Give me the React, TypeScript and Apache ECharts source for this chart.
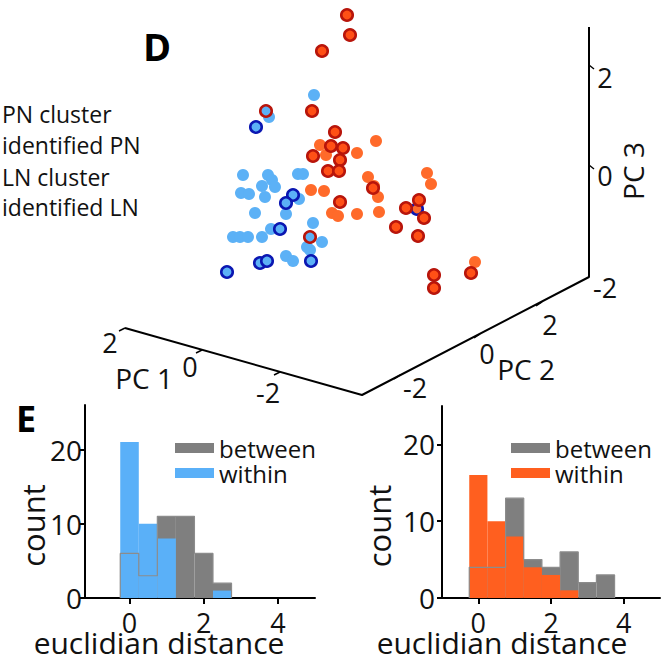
import React, { useEffect, useRef } from "react";
import * as echarts from "echarts";

const FONT = '"Open Sans", "Noto Sans", sans-serif';

// ---------- Panel D: projected (screen-plane) positions of the 3-D PCA scatter ----------
const lnClusterPts: number[][] = [
  [314, 95], [269, 117], [243, 175], [268, 175], [272, 180], [275, 187], [298, 174], [303, 174],
  [262, 186], [241, 193], [249, 194], [265, 197], [299, 199], [255, 213], [286, 214], [313, 223],
  [271, 229], [322, 242], [233, 237], [240, 237], [248, 237], [262, 237], [307, 247], [310, 250],
  [286, 256], [293, 261],
];
const pnClusterPts: number[][] = [
  [320, 145], [326, 155], [357, 153], [376, 141], [311, 190], [324, 191], [368, 177], [374, 186],
  [378, 197], [332, 213], [338, 216], [357, 214], [379, 212], [427, 173], [431, 184], [475, 262],
];
const identifiedPnPts: number[][] = [
  [347, 15], [350, 35], [322, 51], [312, 111], [335, 132], [331, 146], [343, 148], [313, 156],
  [340, 160], [328, 171], [339, 171], [373, 188], [340, 202], [406, 208], [419, 200], [424, 218],
  [396, 227], [418, 236], [471, 273], [434, 275], [434, 288],
];
const identifiedPnInLnCluster: number[][] = [[266, 111], [310, 237]];
const identifiedLnPts: number[][] = [
  [256, 127], [293, 195], [286, 203], [280, 229], [260, 263], [267, 261], [311, 261], [227, 272],
];
const identifiedLnInPnCluster: number[][] = [[417, 209]];

const legendLabelsD = ["PN cluster", "identified PN", "LN cluster", "identified LN"];
const pc1TickLabels = ["2", "0", "-2"];
const pc2TickLabels = ["-2", "0", "2"];
const pc3TickLabels = ["2", "0", "-2"];

// ---------- Panel E: histograms of euclidian distance ----------
const binCenters = [0, 0.5, 1, 1.5, 2, 2.5, 3, 3.5];
const binWidth = 0.5;
const lnBetween = [6, 3, 11, 11, 6, 2, 0, 0];
const lnWithin = [21, 10, 8, 0, 0, 1, 0, 0];
const pnBetween = [4, 4, 13, 5, 4, 6, 2, 3];
const pnWithin = [16, 10, 8, 4, 3, 1, 0, 0];
const histXTicks = [0, 2, 4];
const histYTicks = [0, 10, 20];

const COLORS = {
  lightBlue: "#5cb1f6",
  orange: "#ff6a2a",
  pnFill: "#ff5016",
  pnRing: "#b8150b",
  lnRing: "#0b17b2",
  grey: "#7f7f7f",
  histBlue: "#5ab0f8",
  histOrange: "#ff5f1f",
};

// 3-D axis frame layout (screen positions)
const frame = {
  top: [589, 27],
  corner3: [589, 277],
  corner12: [362, 395],
  pc1End: [125, 328],
  pc1Ticks: [[125, 328], [202, 350], [280, 372]],
  pc1LabelPos: [[110, 342], [190, 366], [268, 392]],
  pc2Ticks: [[400, 375], [480, 334], [542, 302]],
  pc2LabelPos: [[415, 387], [487, 353], [550, 324]],
  pc3Ticks: [[589, 65], [589, 165], [589, 277]],
  pc3LabelPos: [[605, 77], [605, 175], [605, 287]],
};

function histData(counts: number[]) {
  return binCenters.map((c, i) => [c - binWidth / 2, c + binWidth / 2, counts[i]]);
}

function stepOutline(counts: number[]) {
  let last = counts.length - 1;
  while (last > 0 && counts[last] === 0) last--;
  const pts: number[][] = [[binCenters[0] - binWidth / 2, 0]];
  for (let i = 0; i <= last; i++) {
    const x0 = binCenters[i] - binWidth / 2;
    pts.push([x0, counts[i]], [x0 + binWidth, counts[i]]);
  }
  pts.push([binCenters[last] + binWidth / 2, 0]);
  return pts;
}

function histSeries(name: string, counts: number[], color: string, idx: number, z: number) {
  return {
    type: "custom",
    name,
    xAxisIndex: idx,
    yAxisIndex: idx,
    z,
    itemStyle: { color },
    encode: { x: [0, 1], y: 2 },
    data: histData(counts),
    renderItem: (_p: any, api: any) => {
      const a = api.coord([api.value(0), api.value(2)]);
      const b = api.coord([api.value(1), 0]);
      return {
        type: "rect",
        shape: { x: a[0], y: a[1], width: b[0] - a[0], height: b[1] - a[1] },
        style: { fill: color },
      };
    },
  };
}

function outlineSeries(counts: number[], idx: number) {
  return {
    type: "line",
    xAxisIndex: idx,
    yAxisIndex: idx,
    z: 5,
    symbol: "none",
    silent: true,
    data: stepOutline(counts),
    lineStyle: { color: "#8c8c8c", width: 1.2 },
  };
}

function histAxes(idx: number, xMin: number, yMax: number, namePad: number, yNameGap: number, yLabelMargin: number) {
  const axisLine = { show: true, onZero: false, lineStyle: { color: "#000", width: 2 } };
  return {
    x: {
      type: "value",
      gridIndex: idx,
      min: xMin,
      max: 5,
      axisLine,
      splitLine: { show: false },
      axisTick: { show: true, customValues: histXTicks, length: 6, lineStyle: { color: "#000", width: 2 } },
      axisLabel: {
        customValues: histXTicks,
        fontFamily: FONT,
        fontSize: 27,
        color: "#111",
        margin: 11,
      },
      name: "euclidian distance",
      nameLocation: "middle",
      nameGap: 29.5,
      nameMoveOverlap: false,
      nameTextStyle: { fontFamily: FONT, fontSize: 30, color: "#111", padding: [0, namePad, 0, 0] },
    },
    y: {
      type: "value",
      gridIndex: idx,
      min: 0,
      max: yMax,
      axisLine,
      splitLine: { show: false },
      axisTick: { show: true, customValues: histYTicks, length: 5, lineStyle: { color: "#000", width: 2 } },
      axisLabel: {
        customValues: histYTicks,
        fontFamily: FONT,
        fontSize: 28,
        color: "#111",
        margin: yLabelMargin,
      },
      name: "count",
      nameLocation: "middle",
      nameGap: yNameGap,
      nameMoveOverlap: false,
      nameTextStyle: { fontFamily: FONT, fontSize: 31, color: "#111", padding: [0, 48, 0, 0] },
    },
  };
}

export default function App() {
  const ref = useRef<HTMLDivElement>(null);

  useEffect(() => {
    document.body.style.margin = "0";
    if (!ref.current) return;
    const chart = echarts.init(ref.current, undefined, { renderer: "svg" });

    const leftAxes = histAxes(1, -1.2, 26, 82, 37, 3);
    const rightAxes = histAxes(2, -1, 25, 98, 48, 7);

    const textStyle = (size: number, extra: any = {}) => ({
      fontFamily: FONT,
      fontSize: size,
      fill: "#111",
      ...extra,
    });

    const graphics: any[] = [];
    graphics.push({ type: "text", x: 157, y: 46, style: textStyle(38, { text: "D", fontWeight: "bold", align: "center", verticalAlign: "middle", fill: "#000" }) });
    graphics.push({ type: "text", x: 26, y: 418, style: textStyle(36, { text: "E", fontWeight: "bold", align: "center", verticalAlign: "middle", fill: "#000" }) });
    const legendY = [114, 145, 177, 207];
    legendLabelsD.forEach((t, i) => {
      graphics.push({ type: "text", x: 2, y: legendY[i], style: textStyle(23, { text: t, align: "left", verticalAlign: "middle" }) });
    });
    const hook = (p: number[], dx: number, dy: number) => ({
      type: "line",
      shape: { x1: p[0], y1: p[1], x2: p[0] + dx, y2: p[1] + dy },
      style: { stroke: "#000", lineWidth: 1.5 },
    });
    frame.pc1Ticks.forEach((p) => graphics.push(hook(p, -6, 3)));
    frame.pc2Ticks.forEach((p) => graphics.push(hook(p, -6, 4)));
    frame.pc3Ticks.slice(0, 2).forEach((p) => graphics.push(hook(p, 5, 4)));
    pc1TickLabels.forEach((t, i) => graphics.push({ type: "text", x: frame.pc1LabelPos[i][0], y: frame.pc1LabelPos[i][1], style: textStyle(27, { text: t, align: "center", verticalAlign: "middle" }) }));
    pc2TickLabels.forEach((t, i) => graphics.push({ type: "text", x: frame.pc2LabelPos[i][0], y: frame.pc2LabelPos[i][1], style: textStyle(27, { text: t, align: "center", verticalAlign: "middle" }) }));
    pc3TickLabels.forEach((t, i) => graphics.push({ type: "text", x: frame.pc3LabelPos[i][0], y: frame.pc3LabelPos[i][1], style: textStyle(27, { text: t, align: "center", verticalAlign: "middle" }) }));
    graphics.push({ type: "text", x: 144, y: 378, style: textStyle(28, { text: "PC 1", align: "center", verticalAlign: "middle" }) });
    graphics.push({ type: "text", x: 526, y: 369, style: textStyle(28, { text: "PC 2", align: "center", verticalAlign: "middle" }) });
    graphics.push({ type: "text", x: 633, y: 171, rotation: Math.PI / 2, style: textStyle(28, { text: "PC 3", align: "center", verticalAlign: "middle" }) });

    const legendBase = {
      top: 431,
      orient: "vertical",
      itemWidth: 39,
      itemHeight: 10,
      itemGap: 1,
      icon: "rect",
      selectedMode: false,
      formatter: (n: string) => n.split(" ")[0],
      textStyle: { fontFamily: FONT, fontSize: 24, color: "#111", lineHeight: 24 },
    };

    const option: any = {
      animation: false,
      backgroundColor: "#fff",
      grid: [
        { left: 0, top: 0, width: 670, height: 663, outerBoundsMode: "none", containLabel: false },
        { left: 85, top: 405, width: 230, height: 193, outerBoundsMode: "none", containLabel: false },
        { left: 442, top: 406, width: 218, height: 192, outerBoundsMode: "none", containLabel: false },
      ],
      xAxis: [
        { type: "value", gridIndex: 0, min: 0, max: 670, show: false },
        leftAxes.x,
        rightAxes.x,
      ],
      yAxis: [
        { type: "value", gridIndex: 0, min: 0, max: 663, inverse: true, show: false },
        leftAxes.y,
        rightAxes.y,
      ],
      legend: [
        { ...legendBase, left: 170, data: ["between (LN)", "within (LN)"] },
        { ...legendBase, left: 506, data: ["between (PN)", "within (PN)"] },
      ],
      series: [
        {
          type: "line",
          name: "frame",
          xAxisIndex: 0,
          yAxisIndex: 0,
          symbol: "none",
          silent: true,
          z: 1,
          data: [frame.top, frame.corner3, frame.corner12, frame.pc1End],
          lineStyle: { color: "#000", width: 2 },
        },
        {
          type: "scatter",
          name: "LN cluster",
          xAxisIndex: 0,
          yAxisIndex: 0,
          z: 2,
          symbolSize: 12,
          data: lnClusterPts,
          itemStyle: { color: COLORS.lightBlue, opacity: 1 },
        },
        {
          type: "scatter",
          name: "PN cluster",
          xAxisIndex: 0,
          yAxisIndex: 0,
          z: 2,
          symbolSize: 12,
          data: pnClusterPts,
          itemStyle: { color: COLORS.orange, opacity: 1 },
        },
        {
          type: "scatter",
          name: "identified LN",
          xAxisIndex: 0,
          yAxisIndex: 0,
          z: 3,
          symbolSize: 11.5,
          data: [
            ...identifiedLnPts,
            ...identifiedLnInPnCluster.map((p) => ({ value: p, itemStyle: { color: COLORS.orange } })),
          ],
          itemStyle: { color: COLORS.lightBlue, borderColor: COLORS.lnRing, borderWidth: 2.6, opacity: 1 },
        },
        {
          type: "scatter",
          name: "identified PN",
          xAxisIndex: 0,
          yAxisIndex: 0,
          z: 3,
          symbolSize: 11.5,
          data: [
            ...identifiedPnPts,
            ...identifiedPnInLnCluster.map((p) => ({ value: p, itemStyle: { color: COLORS.lightBlue } })),
          ],
          itemStyle: { color: COLORS.pnFill, borderColor: COLORS.pnRing, borderWidth: 2.6, opacity: 1 },
        },
        histSeries("between (LN)", lnBetween, COLORS.grey, 1, 2),
        histSeries("within (LN)", lnWithin, COLORS.histBlue, 1, 3),
        outlineSeries(lnBetween, 1),
        histSeries("between (PN)", pnBetween, COLORS.grey, 2, 2),
        histSeries("within (PN)", pnWithin, COLORS.histOrange, 2, 3),
        outlineSeries(pnBetween, 2),
      ],
      graphic: graphics,
    };

    chart.setOption(option);
    return () => chart.dispose();
  }, []);

  return <div ref={ref} style={{ width: 670, height: 663 }} />;
}
